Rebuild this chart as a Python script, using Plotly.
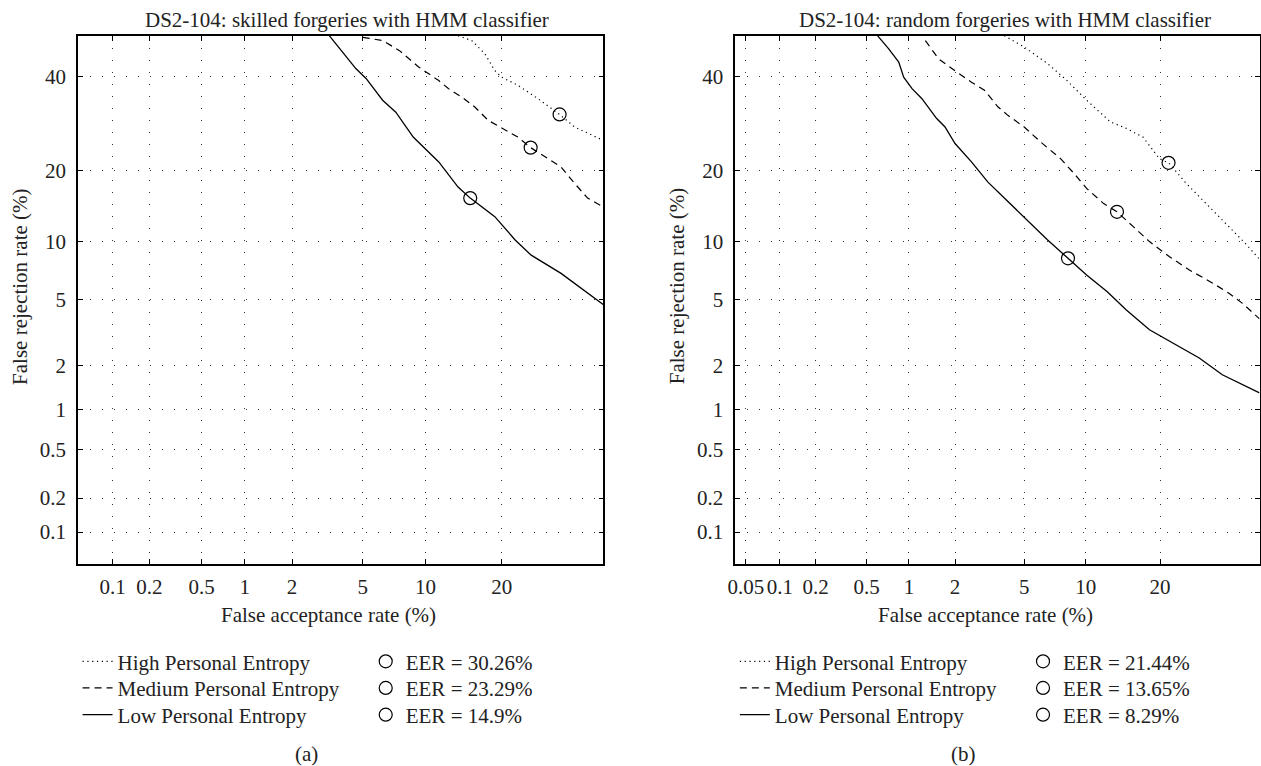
from statistics import NormalDist
import plotly.graph_objects as go

# ---------------- data (percent) ----------------
# (a) skilled forgeries
high_far_a = [13.7, 15.5, 17.4, 18.9, 20.0, 22.7, 26.3, 30.6, 33.7, 40.0]
high_frr_a = [50.0, 48.8, 45.5, 41.4, 39.8, 37.9, 34.8, 31.2, 28.5, 25.7]
med_far_a = [5.0, 6.3, 7.6, 9.3, 11.4, 12.5, 14.2, 15.9, 17.9, 20.0, 22.7, 25.0, 28.3, 30.9, 33.7, 36.5, 40.0]
med_frr_a = [49.6, 48.8, 46.3, 42.3, 39.0, 37.1, 35.1, 32.9, 29.9, 28.2, 26.4, 24.3, 22.2, 20.7, 17.9, 15.6, 14.3]
low_far_a = [3.3, 4.6, 5.2, 6.3, 7.3, 8.8, 11.4, 13.7, 15.3, 18.9, 22.2, 25.1, 30.9, 36.5, 40.0]
low_frr_a = [50.0, 41.9, 39.5, 34.4, 31.7, 26.4, 21.6, 17.3, 15.6, 13.0, 10.2, 8.6, 6.95, 5.45, 4.7]
eer_far_a = [30.6, 25.0, 15.3]
eer_frr_a = [31.2, 24.3, 15.6]
eer_text_a = ["EER = 30.26%", "EER = 23.29%", "EER = 14.9%"]

# (b) random forgeries
high_far_b = [3.9, 5.0, 6.6, 8.2, 10.1, 12.8, 14.9, 17.3, 19.9, 21.5, 24.6, 29.1, 33.2, 36.8, 40.0]
high_frr_b = [50.0, 47.2, 43.1, 39.0, 34.4, 29.6, 28.2, 26.4, 22.2, 21.4, 17.9, 14.3, 11.7, 9.8, 8.2]
med_far_b = [1.29, 1.57, 1.99, 2.52, 3.01, 3.59, 4.08, 5.0, 6.09, 7.64, 8.83, 10.1, 12.0, 13.65,
             15.9, 18.3, 21.6, 25.2, 29.8, 33.2, 36.1, 40.0]
med_frr_b = [48.8, 44.3, 41.4, 38.6, 36.7, 32.9, 31.0, 28.5, 25.4, 22.2, 19.6, 17.1, 14.8, 13.65,
             11.7, 10.0, 8.45, 7.24, 6.17, 5.45, 4.8, 3.9]
low_far_b = [0.60, 0.72, 0.85, 0.92, 1.05, 1.22, 1.53, 1.73, 2.0, 2.52, 3.15, 4.08, 5.21, 6.58,
             8.29, 10.1, 12.4, 14.9, 18.3, 22.8, 27.1, 31.8, 35.4, 40.0]
low_frr_b = [50.0, 46.8, 43.5, 39.8, 37.1, 34.8, 30.3, 28.5, 25.1, 21.6, 18.1, 15.1, 12.55, 10.2,
             8.29, 6.82, 5.56, 4.39, 3.36, 2.71, 2.24, 1.74, 1.53, 1.31]
eer_far_b = [21.44, 13.65, 8.29]
eer_frr_b = [21.44, 13.65, 8.29]
eer_text_b = ["EER = 21.44%", "EER = 13.65%", "EER = 8.29%"]

series_names = ["High Personal Entropy", "Medium Personal Entropy", "Low Personal Entropy"]
x_ticks_a = [0.1, 0.2, 0.5, 1, 2, 5, 10, 20]
x_ticks_b = [0.05, 0.1, 0.2, 0.5, 1, 2, 5, 10, 20]
y_ticks = [0.1, 0.2, 0.5, 1, 2, 5, 10, 20, 40]
x_range_a = [0.05, 40]
x_range_b = [0.04, 40]
y_range = [0.05, 50]

titles = ["DS2-104: skilled forgeries with HMM classifier", "DS2-104: random forgeries with HMM classifier"]
x_title = "False acceptance rate (%)"
y_title = "False rejection rate (%)"
panel_labels = ["(a)", "(b)"]

# ---------------- helpers ----------------
ND = NormalDist()


def probit(vals):
    return [ND.inv_cdf(v / 100.0) for v in vals]


def fmt(v):
    return "%g" % v


W, H = 1261, 766
FONT = "Liberation Serif, Times New Roman, serif"
FS = 21
TXT = "#222"
DASHES = ["1.2px,3.6px", "7px,5px", "solid"]
PANEL_DX = 661.5
ROW_Y = [661.7, 688.3, 715.0]
LINE_LG_X = 70.0
EER_LG_X = 360.0

fig = go.Figure()

panels = [
    dict(xa="x", ya="y", lines=[(high_far_a, high_frr_a), (med_far_a, med_frr_a), (low_far_a, low_frr_a)],
         eer=(eer_far_a, eer_frr_a, eer_text_a)),
    dict(xa="x2", ya="y2", lines=[(high_far_b, high_frr_b), (med_far_b, med_frr_b), (low_far_b, low_frr_b)],
         eer=(eer_far_b, eer_frr_b, eer_text_b)),
]

legend_layouts = {}
lg_n = 0


def legend_cfg(x_px, y_px):
    return dict(
        x=x_px / W, y=1 - y_px / H, xanchor="left", yanchor="middle",
        xref="paper", yref="paper",
        bgcolor="rgba(0,0,0,0)", borderwidth=0, tracegroupgap=0,
        font=dict(family=FONT, size=FS, color=TXT),
        itemclick=False, itemdoubleclick=False, itemsizing="trace",
    )


for k, p in enumerate(panels):
    off = k * PANEL_DX
    for r, (name, (fx, fy), dash) in enumerate(zip(series_names, p["lines"], DASHES)):
        lg_n += 1
        key = "legend" if lg_n == 1 else "legend%d" % lg_n
        legend_layouts[key] = legend_cfg(LINE_LG_X + off, ROW_Y[r])
        fig.add_trace(go.Scatter(
            x=probit(fx), y=probit(fy), mode="lines", name=name,
            line=dict(color="black", width=1.3 if dash == "solid" else 1.2, dash=dash),
            xaxis=p["xa"], yaxis=p["ya"], legend=key,
            customdata=list(zip(fx, fy)),
            hovertemplate="FAR %{customdata[0]}%<br>FRR %{customdata[1]}%<extra>" + name + "</extra>",
        ))
    ex, ey, et = p["eer"]
    for r in range(len(ex)):
        lg_n += 1
        key = "legend%d" % lg_n
        legend_layouts[key] = legend_cfg(EER_LG_X + off, ROW_Y[r])
        fig.add_trace(go.Scatter(
            x=probit([ex[r]]), y=probit([ey[r]]), mode="markers", name=et[r],
            marker=dict(symbol="circle-open", size=13, color="black", line=dict(width=1.2, color="black")),
            xaxis=p["xa"], yaxis=p["ya"], legend=key,
            hovertemplate=et[r] + "<extra></extra>",
        ))


# ---------------- axes ----------------
def axis_common():
    return dict(
        showline=True, linecolor="black", linewidth=1.8, mirror="ticks",
        ticks="inside", ticklen=5, tickwidth=1, tickcolor="black",
        showgrid=True, gridcolor="#333333", gridwidth=1, griddash="1px,11px",
        zeroline=False, tickangle=0,
        tickfont=dict(family=FONT, size=FS, color=TXT),
        fixedrange=True, tickmode="array",
    )


xdom_a = [70.5 / W, 599.3 / W]
xdom_b = [732.0 / W, 1259.5 / W]
ydom = [1 - 564.3 / H, 1 - 35.7 / H]

fig.update_layout(
    xaxis=dict(axis_common(), domain=xdom_a, anchor="y", range=probit(x_range_a),
               tickvals=probit(x_ticks_a), ticktext=[fmt(v) for v in x_ticks_a], ticklabelstandoff=3),
    yaxis=dict(axis_common(), domain=ydom, anchor="x", range=probit(y_range),
               tickvals=probit(y_ticks), ticktext=[fmt(v) for v in y_ticks], ticklabelstandoff=6),
    xaxis2=dict(axis_common(), domain=xdom_b, anchor="y2", range=probit(x_range_b),
                tickvals=probit(x_ticks_b), ticktext=[fmt(v) for v in x_ticks_b], ticklabelstandoff=3),
    yaxis2=dict(axis_common(), domain=ydom, anchor="x2", range=probit(y_range),
                tickvals=probit(y_ticks), ticktext=[fmt(v) for v in y_ticks], ticklabelstandoff=6),
    showlegend=True,
    **legend_layouts,
)

# ---------------- text ----------------
annotations = []
for k in range(2):
    off = k * PANEL_DX
    common = dict(xref="paper", yref="paper", xanchor="center", yanchor="middle", showarrow=False,
                  font=dict(family=FONT, size=FS, color=TXT))
    annotations.append(dict(common, text=titles[k], x=(341.5 + off) / W, y=1 - 20 / H))
    annotations.append(dict(common, text=x_title, x=(322.5 + off) / W, y=1 - 615 / H))
    annotations.append(dict(common, text=y_title, x=(12 + off) / W, y=1 - 286 / H, textangle=-90))
    annotations.append(dict(common, text=panel_labels[k], x=(300.5 + off) / W, y=1 - 754 / H))

fig.update_layout(
    annotations=annotations,
    width=W, height=H,
    margin=dict(l=0, r=0, t=0, b=0, pad=0),
    paper_bgcolor="white", plot_bgcolor="white",
    font=dict(family=FONT, size=FS, color=TXT),
)

fig.write_html("out.html", config={"displayModeBar": False},
               post_script="document.body.style.margin='0';document.body.style.overflow='hidden';")
